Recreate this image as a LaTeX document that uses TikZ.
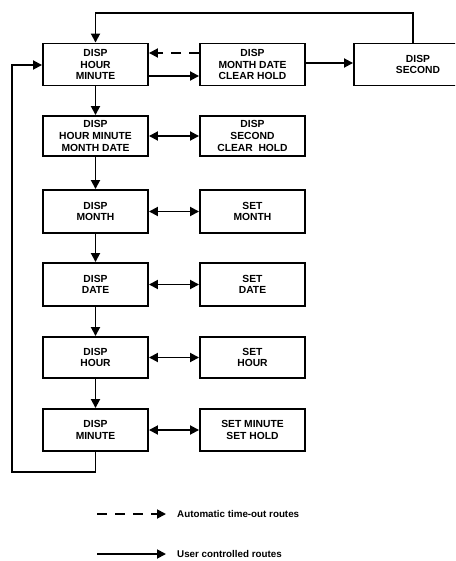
\documentclass[tikz,border=0pt]{standalone}
\usepackage{fontspec}
\setmainfont{Liberation Sans}
\usetikzlibrary{arrows.meta}
\begin{document}
\begin{tikzpicture}[x=1pt,y=1pt,
  box/.style={draw,line width=1.9pt,minimum width=105pt,minimum height=42pt,inner sep=0pt,
    align=center,font=\bfseries\fontsize{10.3}{11.8}\selectfont},
  conn/.style={line width=1.8pt,-{Triangle[length=9pt,width=9pt]}},
  dconn/.style={line width=1.8pt,{Triangle[length=9pt,width=9pt]}-{Triangle[length=9pt,width=9pt]}},
  dashconn/.style={line width=1.8pt,dash pattern=on 10pt off 8pt,-{Triangle[length=9pt,width=9pt]}},
  legend/.style={anchor=west,inner sep=0pt,font=\bfseries\fontsize{9.8}{11}\selectfont}]
\useasboundingbox (0,0) rectangle (455,-561);
\clip (0,0) rectangle (455,-561);
% left column
\node[box] (hm) at (95.5,-64.5) {DISP\\HOUR\\MINUTE};
\node[box,minimum height=40pt] (hmmd) at (95.5,-136) {DISP\\HOUR MINUTE\\MONTH DATE};
\node[box,minimum height=43pt] (mo) at (95.5,-211.5) {DISP\\MONTH};
\node[box,minimum height=43pt] (da) at (95.5,-284.5) {DISP\\DATE};
\node[box,minimum height=41pt] (ho) at (95.5,-357.5) {DISP\\HOUR};
\node[box] (mi) at (95.5,-430) {DISP\\MINUTE};
% middle column
\node[box] (mdch) at (252.5,-64.5) {DISP\\MONTH DATE\\CLEAR HOLD};
\node[box,minimum height=40pt] (sch) at (252.5,-136) {DISP\\SECOND\\CLEAR\ \ HOLD};
\node[box,minimum height=43pt] (smo) at (252.5,-211.5) {SET\\MONTH};
\node[box,minimum height=43pt] (sda) at (252.5,-284.5) {SET\\DATE};
\node[box,minimum height=41pt] (sho) at (252.5,-357.5) {SET\\HOUR};
\node[box] (smi) at (252.5,-430) {SET MINUTE\\SET HOLD};
% right box (runs off the page)
\node[box,minimum width=128pt] (sec) at (418,-64.5) {DISP\\SECOND};
% corner coordinates
\coordinate (tl) at (95.5,-13);
\coordinate (tr) at (413,-13);
\coordinate (bl) at (12,-472);
\coordinate (br) at (95.5,-472);
\coordinate (ul) at (12,-65);
% connectors
\draw[conn] (sec.north -| tr) -- (tr) -- (tl) -- (hm.north);
\draw[dashconn] (mdch.west |- 0,-53) -- (hm.east |- 0,-53);
\draw[conn] (hm.east |- 0,-76) -- (mdch.west |- 0,-76);
\draw[conn] (mdch.east |- 0,-63) -- (sec.west |- 0,-63);
\draw[conn] (hm) -- (hmmd);
\draw[conn] (hmmd) -- (mo);
\draw[conn] (mo) -- (da);
\draw[conn] (da) -- (ho);
\draw[conn] (ho) -- (mi);
\draw[dconn] (hmmd) -- (sch);
\draw[dconn] (mo) -- (smo);
\draw[dconn] (da) -- (sda);
\draw[dconn] (ho) -- (sho);
\draw[dconn] (mi) -- (smi);
\draw[conn] (mi.south) -- (br) -- (bl) -- (ul) -- (hm.west |- ul);
% legend
\coordinate (l1a) at (97,-514);
\coordinate (l1b) at (166,-514);
\coordinate (l2a) at (97,-554);
\coordinate (l2b) at (166,-554);
\draw[dashconn] (l1a) -- (l1b);
\draw[conn] (l2a) -- (l2b);
\node[legend] (t1) at (177,-514) {Automatic time-out routes};
\node[legend] (t2) at (177,-554) {User controlled routes};
\end{tikzpicture}
\end{document}
